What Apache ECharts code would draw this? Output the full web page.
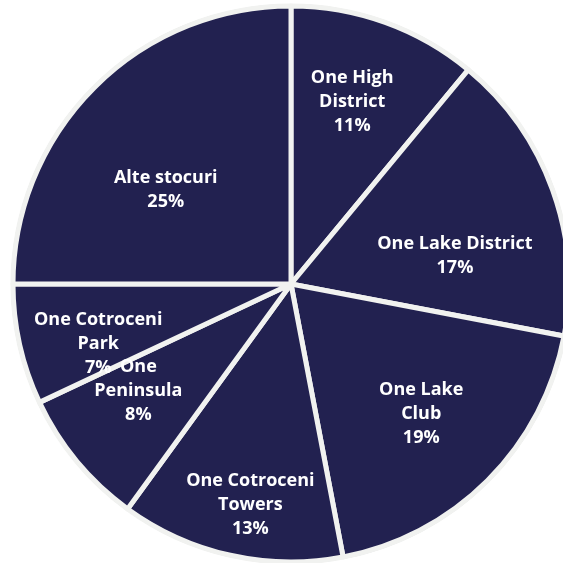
<!DOCTYPE html>
<html><head><meta charset="utf-8">
<style>html,body{margin:0;padding:0;background:#fff}#c{width:563px;height:563px}</style>
<script src="https://cdn.jsdelivr.net/npm/echarts@6/dist/echarts.min.js"></script>
</head><body><div id="c"></div>
<script>
const categories = ["One High\nDistrict", "One Lake District", "One Lake\nClub", "One Cotroceni\nTowers", "One\nPeninsula", "One Cotroceni\nPark", "Alte stocuri"];
const shares = [11, 17, 19, 13, 8, 7, 25];

// label nudges (style only, in px)
const labelNudgeX = [-5, -20, -8, 2, -2, -2, 13];
const labelNudgeY = [2, 38, -8, 30, -18, 17, 44];

const data = categories.map((c, i) => ({ name: c, value: shares[i] }));
const chart = echarts.init(document.getElementById('c'), null, { renderer: 'canvas' });
const C = [291, 284];
chart.setOption({
  animation: false,
  backgroundColor: '#ffffff',
  series: [
    {
      type: 'pie', silent: true, center: C, radius: [0, 280],
      startAngle: 90, clockwise: true,
      data: [{ value: 1 }], itemStyle: { color: '#d4d4da' }, label: { show: false }, labelLine: { show: false }
    },
    {
      type: 'pie', silent: true, center: C, radius: [0, 278],
      startAngle: 90, clockwise: true, avoidLabelOverlap: false,
      data: data,
      itemStyle: { color: '#222150', borderColor: '#f1f2f0', borderWidth: 5 },
      label: { show: false }, labelLine: { show: false }
    },
    {
      type: 'pie', silent: true, center: C, radius: [0, 385],
      startAngle: 90, clockwise: true, avoidLabelOverlap: false,
      data: data,
      itemStyle: { color: 'rgba(0,0,0,0)' },
      label: {
        show: true, position: 'inside', color: '#ffffff',
        fontFamily: 'Open Sans', fontWeight: 'bold', fontSize: 18, lineHeight: 24,
        formatter: p => p.name + '\n' + p.value + '%'
      },
      labelLayout: p => ({ dx: labelNudgeX[p.dataIndex], dy: labelNudgeY[p.dataIndex] }),
      labelLine: { show: false }
    }
  ]
});
</script></body></html>
